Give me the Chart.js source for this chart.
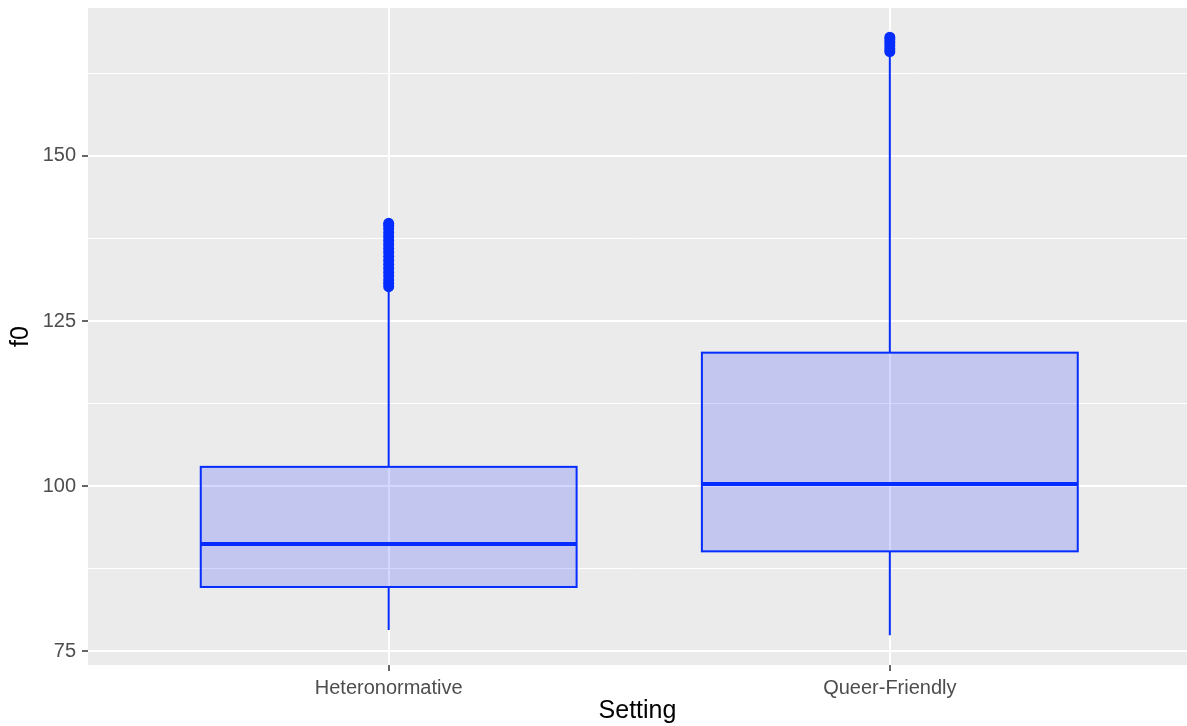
<!DOCTYPE html>
<html>
<head>
<meta charset="utf-8">
<script src="https://cdn.jsdelivr.net/npm/chart.js@4/dist/chart.umd.min.js"></script>
<style>
  html, body { margin: 0; padding: 0; background: #fff; }
  canvas { display: block; }
</style>
</head>
<body>
<canvas id="chart" width="1187" height="726"></canvas>
<script>
// box plot summaries
const categories = ['Heteronormative', 'Queer-Friendly'];
const whiskerLow = [78.2, 77.4];
const q1 = [84.7, 90.1];
const median = [91.2, 100.3];
const q3 = [102.9, 120.2];
const whiskerHigh = [129.9, 165.4];
const outliersHetero = [130.2, 130.7, 131.2, 131.8, 132.4, 133.0, 133.6, 134.2, 134.8, 135.4, 136.0, 136.6, 137.2, 137.8, 138.4, 139.0, 139.5, 139.8];
const outliersQueer = [165.8, 166.2, 166.7, 167.2, 167.6, 168.0];
const yMajorTicks = [75, 100, 125, 150];
const yMinorTicks = [87.5, 112.5, 137.5, 162.5];

const BLUE = 'rgb(5,45,255)';
const PANEL = '#EBEBEB';

const panelBg = {
  id: 'panelBg',
  beforeDraw(chart) {
    const { ctx, chartArea: a } = chart;
    ctx.save();
    ctx.fillStyle = '#fff';
    ctx.fillRect(0, 0, chart.width, chart.height);
    ctx.fillStyle = PANEL;
    ctx.fillRect(a.left, a.top, a.right - a.left, a.bottom - a.top);
    ctx.restore();
  }
};

// draws whiskers, boxes and medians through the chart scales
const boxes = {
  id: 'boxes',
  afterDatasetsDraw(chart) {
    const { ctx, scales: { x, y } } = chart;
    ctx.save();
    categories.forEach((c, i) => {
      const pos = i + 1;
      const cx = x.getPixelForValue(pos);
      const left = x.getPixelForValue(pos - 0.375);
      const right = x.getPixelForValue(pos + 0.375);
      ctx.strokeStyle = BLUE;
      ctx.lineWidth = 2;
      ctx.beginPath();
      ctx.moveTo(cx, y.getPixelForValue(whiskerLow[i]));
      ctx.lineTo(cx, y.getPixelForValue(q1[i]));
      ctx.moveTo(cx, y.getPixelForValue(q3[i]));
      ctx.lineTo(cx, y.getPixelForValue(whiskerHigh[i]));
      ctx.stroke();
      const top = y.getPixelForValue(q3[i]);
      const bottom = y.getPixelForValue(q1[i]);
      ctx.fillStyle = 'rgba(0,20,255,0.17)';
      ctx.fillRect(left, top, right - left, bottom - top);
      ctx.strokeRect(left, top, right - left, bottom - top);
      ctx.lineWidth = 4;
      ctx.beginPath();
      const my = y.getPixelForValue(median[i]);
      ctx.moveTo(left, my);
      ctx.lineTo(right, my);
      ctx.stroke();
    });
    ctx.restore();
  }
};

const outlierPoints = [
  ...outliersHetero.map(v => ({ x: 1, y: v })),
  ...outliersQueer.map(v => ({ x: 2, y: v }))
];

new Chart(document.getElementById('chart'), {
  type: 'scatter',
  data: {
    datasets: [{
      label: 'outliers',
      data: outlierPoints,
      backgroundColor: BLUE,
      borderWidth: 0,
      pointRadius: 5.5
    }]
  },
  options: {
    responsive: false,
    animation: false,
    layout: { autoPadding: false, padding: { top: 8, right: 0, left: 0, bottom: 0 } },
    plugins: { legend: { display: false }, tooltip: { enabled: false } },
    scales: {
      x: {
        type: 'linear',
        min: 0.4,
        max: 2.593,
        afterBuildTicks: s => { s.ticks = [{ value: 1 }, { value: 2 }]; },
        afterFit: s => { s.height = 61; s.paddingLeft = 0; s.paddingRight = 0; },
        border: { display: false },
        grid: { color: '#fff', lineWidth: 2, tickColor: '#333', tickLength: 6, tickWidth: 1.5 },
        ticks: {
          autoSkip: false, maxRotation: 0, padding: 5,
          color: '#4D4D4D', font: { family: 'Liberation Sans, Arial, sans-serif', size: 20 },
          callback: v => categories[v - 1]
        },
        title: {
          display: true, text: 'Setting', color: '#000', padding: 0,
          font: { family: 'Liberation Sans, Arial, sans-serif', size: 25 }
        }
      },
      y: {
        min: 72.88,
        max: 172.42,
        afterBuildTicks: s => {
          s.ticks = [...yMajorTicks, ...yMinorTicks].sort((a, b) => a - b).map(v => ({ value: v }));
        },
        afterFit: s => { s.width = 88; s.paddingTop = 0; s.paddingBottom = 0; },
        border: { display: false },
        grid: {
          color: '#fff',
          lineWidth: c => yMajorTicks.includes(c.tick.value) ? 2 : 1,
          tickColor: c => yMajorTicks.includes(c.tick.value) ? '#333' : 'rgba(0,0,0,0)',
          tickLength: 6, tickWidth: 1.5
        },
        ticks: {
          autoSkip: false, padding: 6,
          color: '#4D4D4D', font: { family: 'Liberation Sans, Arial, sans-serif', size: 20 },
          callback: v => yMajorTicks.includes(v) ? String(v) : ''
        },
        title: {
          display: true, text: 'f0', color: '#000', padding: { top: 6, bottom: 0 },
          font: { family: 'Liberation Sans, Arial, sans-serif', size: 25 }
        }
      }
    }
  },
  plugins: [panelBg, boxes]
});
</script>
</body>
</html>
